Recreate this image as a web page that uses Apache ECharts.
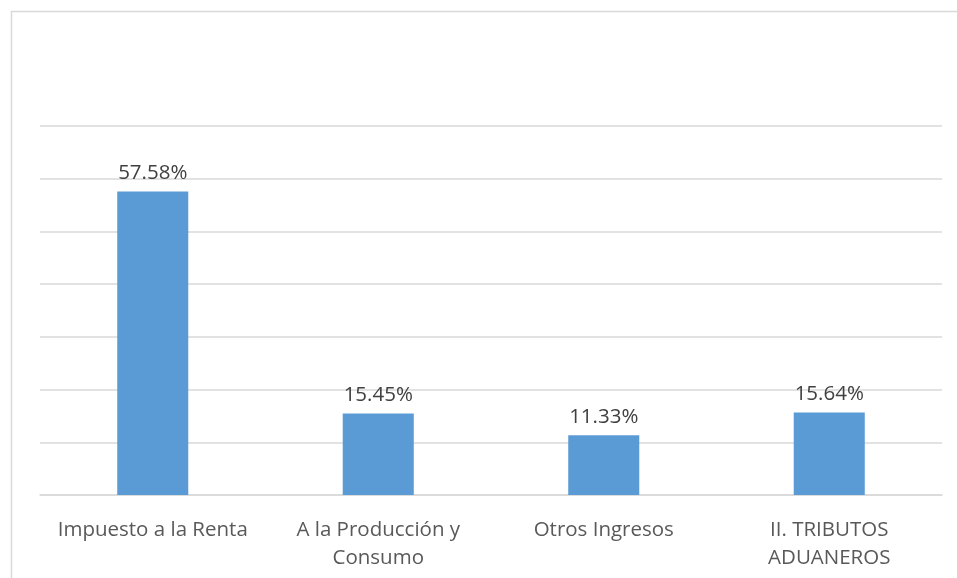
<!DOCTYPE html>
<html>
<head>
<meta charset="utf-8">
<script src="https://cdn.jsdelivr.net/npm/echarts@6/dist/echarts.min.js"></script>
<style>
  html, body { margin: 0; padding: 0; background: #fff; }
  #chart { width: 957px; height: 578px; }
</style>
</head>
<body>
<div id="chart"></div>
<script>
// categorías y participación (%)
const categorias = ['Impuesto a la Renta', 'A la Producción y\nConsumo', 'Otros Ingresos', 'II. TRIBUTOS\nADUANEROS']
const participacion = [57.58, 15.45, 11.33, 15.64]

const chart = echarts.init(document.getElementById('chart'))
chart.setOption({
  animation: false,
  textStyle: { fontFamily: 'Open Sans' },
  graphic: [
    {
      type: 'rect',
      shape: { x: 11.5, y: 11.5, width: 980, height: 620 },
      style: { fill: 'none', stroke: '#d9d9d9', lineWidth: 1.5 },
      silent: true
    }
  ],
  grid: { left: 40, right: 15, top: 126, bottom: 83 },
  xAxis: {
    type: 'category',
    data: categorias,
    axisLine: { show: true, lineStyle: { color: '#d9d9d9', width: 1.5 } },
    axisTick: { show: false },
    axisLabel: { interval: 0, hideOverlap: false, color: '#595959', fontSize: 20.5, lineHeight: 28, margin: 21 }
  },
  yAxis: {
    type: 'value',
    min: 0,
    max: 70,
    interval: 10,
    axisLabel: { show: false },
    axisLine: { show: false },
    axisTick: { show: false },
    splitLine: { lineStyle: { color: '#d9d9d9', width: 1.5 } }
  },
  series: [
    {
      type: 'bar',
      data: participacion,
      barWidth: '31.5%',
      itemStyle: { color: '#5b9bd5' },
      label: {
        show: true,
        position: 'top',
        distance: 8,
        color: '#404040',
        fontSize: 20.5,
        formatter: p => p.value.toFixed(2) + '%'
      }
    }
  ]
})
</script>
</body>
</html>
